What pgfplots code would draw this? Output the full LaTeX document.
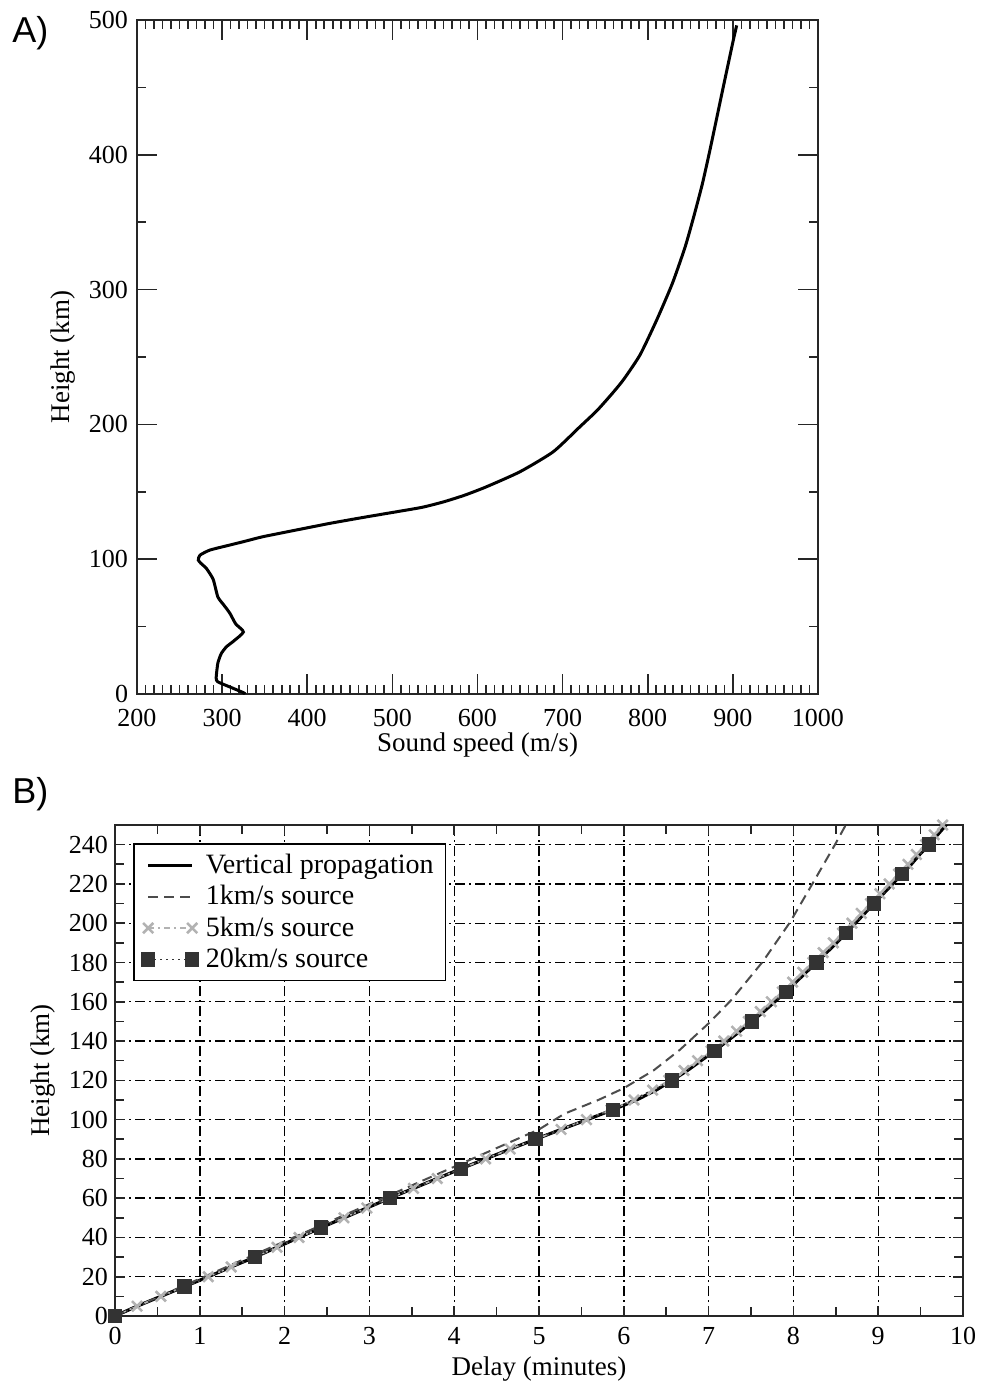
\documentclass[border=0pt]{standalone}
\usepackage{fontspec}
\setmainfont{Liberation Serif}
\newfontfamily\panelfont{Liberation Sans}
\usepackage{pgfplots}
\usepackage{pgfplotstable}
\pgfplotsset{compat=1.18}

% Sound speed profile: speed (m/s) against height (km)
\pgfplotstableread{
speed height
327 0
325 1
310 5
295 9
293 12
295 23
299 30
305 35
313 39
325 46
316 52
309 60
302 66
295 72
289.5 85
281.7 93
275 97
272 99.4
274 103
285.8 106.8
309 110.5
325 113
348 116.7
387.5 121.7
426.7 126.6
465.8 131
505 135.2
535 138.5
560 142.5
585 147.5
610.8 153.8
650 164.9
689 179.7
720.4 198.3
740 210
757 222
771.3 233
790.9 251.5
810.5 277.4
829 304.7
844 331.8
854 354
864 378
873.1 403.6
888.8 450.5
900.5 485
904.5 496
}\soundspeed

% Arrival delay (minutes) against height (km)
\pgfplotstableread{
t h
0 0
0.26 5
0.54 10
0.82 15
1.10 20
1.37 25
1.65 30
1.91 35
2.17 40
2.43 45
2.70 50
2.97 55
3.24 60
3.52 65
3.80 70
4.08 75
4.37 80
4.66 85
4.96 90
5.26 95
5.57 100
5.87 105
6.15 110
6.38 115
6.57 120
6.75 125
6.91 130
7.07 135
7.22 140
7.37 145
7.51 150
7.65 155
7.78 160
7.91 165
8.03 170
8.15 175
8.27 180
8.39 185
8.51 190
8.62 195
8.73 200
8.84 205
8.95 210
9.06 215
9.17 220
9.28 225
9.39 230
9.49 235
9.60 240
9.70 245
9.80 250
9.85 252
}\vertical

\pgfplotstableread{
t h
0 0
1 19
2 38
3 57
4 76
5 95
5.3 103
5.7 110
6.0 116
6.35 125
6.66 135.5
7.0 149
7.27 161
7.64 180.5
7.96 200.5
8.23 220.5
8.49 240
8.63 251
}\onekm

\pgfplotstableread{
t h
0 0
0.26 5
0.54 10
0.82 15
1.10 20
1.37 25
1.65 30
1.91 35
2.17 40
2.43 45
2.70 50
2.97 55
3.24 60
3.52 65
3.80 70
4.08 75
4.37 80
4.66 85
4.96 90
5.26 95
5.56 100
5.85 105
6.12 110
6.34 115
6.53 120
6.71 125
6.87 130
7.03 135
7.18 140
7.33 145
7.47 150
7.61 155
7.74 160
7.87 165
7.99 170
8.11 175
8.23 180
8.35 185
8.47 190
8.58 195
8.69 200
8.80 205
8.91 210
9.02 215
9.13 220
9.24 225
9.35 230
9.45 235
9.56 240
9.66 245
9.76 250
9.80 252
}\fivekm

\pgfplotstableread{
t h
0 0
0.82 15
1.65 30
2.43 45
3.24 60
4.08 75
4.96 90
5.87 105
6.57 120
7.07 135
7.51 150
7.91 165
8.27 180
8.62 195
8.95 210
9.28 225
9.60 240
}\twentykm

\begin{document}
\begin{tikzpicture}
\path[use as bounding box] (0pt,0pt) rectangle (492.5pt,-692.5pt);

\node[anchor=west,inner sep=0pt,font=\panelfont\fontsize{18}{20}\selectfont] at (6pt,-16.5pt) {A)};
\node[anchor=west,inner sep=0pt,font=\panelfont\fontsize{18}{20}\selectfont] at (6pt,-397pt) {B)};

\pgfplotsset{
  every axis/.append style={
    scale only axis,
    /pgf/number format/assume math mode=true,
    /pgf/number format/1000 sep={},
    tick label style={font=\fontsize{13}{15}\selectfont},
    label style={font=\fontsize{13.5}{15}\selectfont},
    axis line style={black!85, line width=0.8pt},
    every tick/.style={black!85, line width=0.8pt},
    tick align=inside,
  },
}

% Panel A: sound speed profile
\begin{axis}[
  at={(68.5pt,-10pt)}, anchor=north west,
  width=340.5pt, height=337pt,
  xmin=200, xmax=1000, ymin=0, ymax=500,
  xtick={200,300,...,1000}, ytick={0,100,...,500},
  minor x tick num=9, minor y tick num=1,
  major tick length=10pt, minor tick length=4.5pt,
  xticklabel style={inner ysep=0.5pt, yshift=-6.8pt},
  yticklabel style={inner xsep=0.5pt, xshift=-3.8pt},
  xlabel={Sound speed (m/s)}, ylabel={Height (km)},
  xlabel style={at={(axis description cs:0.5,0)}, anchor=center, yshift=-25.5pt},
  ylabel style={at={(axis description cs:-0.1087,0.5)}, anchor=center, rotate=0},
]
\addplot[black, line width=1.5pt, smooth, tension=0.35] table[x=speed, y=height] {\soundspeed};
\end{axis}

% Panel B: arrival delay against height
\begin{axis}[
  at={(57.5pt,-412.5pt)}, anchor=north west,
  width=424pt, height=245.5pt,
  xmin=0, xmax=10, ymin=0, ymax=250,
  xtick={0,1,...,10}, ytick={0,20,...,240},
  minor x tick num=1, minor y tick num=1,
  major tick length=5pt, minor tick length=4.5pt,
  xticklabel style={yshift=-2pt},
  grid=major,
  major grid style={black, line width=0.7pt, dash pattern=on 5pt off 2pt on 1pt off 2pt},
  xlabel={Delay (minutes)}, ylabel={Height (km)},
  xlabel style={at={(axis description cs:0.5,0)}, anchor=center, yshift=-26.5pt},
  ylabel style={at={(axis description cs:-0.0849,0.5)}, anchor=center, rotate=0},
  legend style={at={(0.0212,0.963)}, anchor=north west, draw=black, line width=0.8pt,
    fill=white, font=\fontsize{14}{15.5}\selectfont, row sep=0.5pt,
    inner xsep=4pt, inner ysep=3pt},
  legend cell align=left,
  legend image code/.code={
    \draw[mark repeat=1, mark phase=1, #1] plot coordinates {(0pt,0pt) (22pt,0pt)};
    \path (26pt,0pt);
  },
]
\addplot[black, line width=1.6pt] table[x=t, y=h] {\vertical};
\addlegendentry{Vertical propagation}
\addplot[black!70, line width=1pt, dash pattern=on 5pt off 3pt] table[x=t, y=h] {\onekm};
\addlegendentry{1km/s source}
\addplot[black!30, line width=0.8pt, dash pattern=on 3pt off 2pt on 1pt off 2pt,
  mark=x, mark size=3.6pt, mark options={solid, line width=1.3pt}] table[x=t, y=h] {\fivekm};
\addlegendentry{5km/s source}
\addplot[black!80, line width=0.8pt, dash pattern=on 1pt off 2pt,
  mark=square*, mark size=3.2pt, mark options={solid}] table[x=t, y=h] {\twentykm};
\addlegendentry{20km/s source}
\end{axis}
\end{tikzpicture}
\end{document}
